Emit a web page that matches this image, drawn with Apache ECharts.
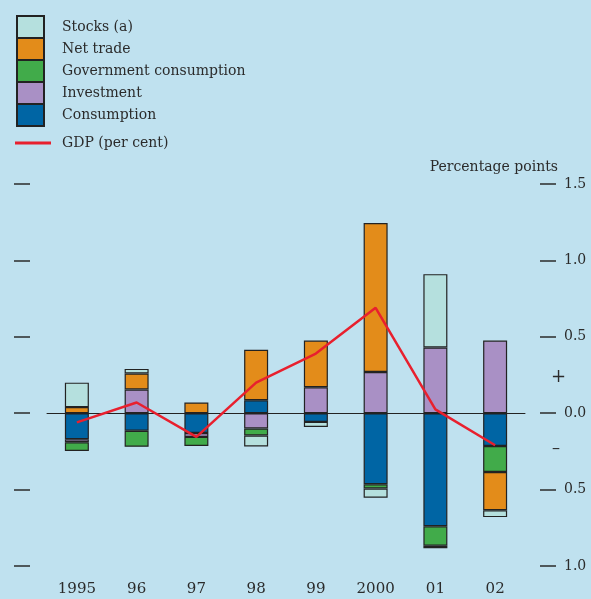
<!DOCTYPE html>
<html>
<head>
<meta charset="utf-8">
<script src="https://cdn.jsdelivr.net/npm/echarts@6/dist/echarts.min.js"></script>
<style>
  html, body { margin: 0; padding: 0; background: #bfe1ef; }
  #chart { width: 591px; height: 599px; }
</style>
</head>
<body>
<div id="chart"></div>
<script>
var years = ['1995', '96', '97', '98', '99', '2000', '01', '02'];
var consumption = [-0.17, -0.115, -0.13, 0.085, -0.057, -0.465, -0.74, -0.215];
var investment = [-0.02, 0.155, -0.025, -0.10, 0.17, 0.27, 0.43, 0.475];
var government = [-0.057, -0.105, -0.06, -0.046, null, -0.028, -0.127, -0.17];
var netTrade = [0.04, 0.105, 0.07, 0.33, 0.305, 0.975, -0.017, -0.25];
var stocks = [0.16, 0.03, null, -0.072, -0.033, -0.06, 0.48, -0.045];
var gdp = [-0.06, 0.07, -0.155, 0.2, 0.39, 0.69, 0.025, -0.21];

var font = 'DejaVu Serif';
var ink = '#2b2b2b';
var red = '#e8202e';

function barSeries(name, data, color) {
    return {
        name: name,
        type: 'bar',
        stack: 'all',
        data: data,
        barWidth: 24,
        itemStyle: { color: color, borderColor: '#222', borderWidth: 1.2 }
    };
}

var myChart = echarts.init(document.getElementById('chart'));
var option = {
    backgroundColor: '#bfe1ef',
    animation: false,
    textStyle: { fontFamily: font },
    legend: [{
        orient: 'vertical',
        left: 16,
        top: 15,
        padding: 0,
        icon: 'rect',
        itemWidth: 27,
        itemHeight: 22,
        itemGap: -2,
        selectedMode: false,
        textStyle: { fontFamily: font, fontSize: 14, lineHeight: 18, color: ink, padding: [0, 0, 0, 13] },
        data: ['Stocks (a)', 'Net trade', 'Government consumption', 'Investment', 'Consumption']
    }, {
        orient: 'vertical',
        left: 15,
        top: 134,
        padding: 0,
        itemWidth: 36,
        itemHeight: 3,
        selectedMode: false,
        textStyle: { fontFamily: font, fontSize: 14, lineHeight: 18, color: ink, padding: [0, 0, 0, 6] },
        data: [{ name: 'GDP (per cent)', icon: 'rect', itemStyle: { color: red, borderWidth: 0 } }]
    }],
    grid: { left: 47, right: 66, top: 184, bottom: 33 },
    xAxis: {
        type: 'category',
        data: years,
        axisLine: { lineStyle: { color: ink, width: 1 } },
        axisTick: { inside: true, length: 7, lineStyle: { color: ink } },
        axisLabel: { fontFamily: font, fontSize: 15, color: ink, margin: 16 }
    },
    yAxis: [{
        type: 'value',
        min: -1.0,
        max: 1.5,
        interval: 0.5,
        position: 'left',
        offset: 17,
        axisLine: { show: false },
        axisTick: { show: true, length: 16, lineStyle: { color: ink, width: 1.5 } },
        axisLabel: { show: false },
        splitLine: { show: false }
    }, {
        type: 'value',
        min: -1.0,
        max: 1.5,
        interval: 0.5,
        position: 'right',
        offset: 15,
        axisLine: { show: false },
        axisTick: { show: true, length: 16, lineStyle: { color: ink, width: 1.5 } },
        axisLabel: {
            fontFamily: font, fontSize: 14, color: ink, margin: 24,
            formatter: function (v) { return Math.abs(v).toFixed(1); }
        },
        splitLine: { show: false }
    }],
    graphic: [
        { type: 'text', right: 33, top: 160, style: { text: 'Percentage points', font: '14px "DejaVu Serif"', fill: ink } },
        { type: 'text', left: 551, top: 368, style: { text: '+', font: '18px "DejaVu Serif"', fill: ink } },
        { type: 'text', left: 552, top: 441, style: { text: '–', font: '16px "DejaVu Serif"', fill: ink } }
    ],
    series: [
        barSeries('Consumption', consumption, '#0065a4'),
        barSeries('Investment', investment, '#a990c5'),
        barSeries('Government consumption', government, '#41ab4a'),
        barSeries('Net trade', netTrade, '#e38c1a'),
        barSeries('Stocks (a)', stocks, '#b5e0de'),
        {
            name: 'GDP (per cent)',
            type: 'line',
            data: gdp,
            symbol: 'none',
            lineStyle: { color: red, width: 2.5 },
            itemStyle: { color: red },
            z: 5,
            markLine: {
                silent: true,
                symbol: 'none',
                label: { show: false },
                lineStyle: { color: '#222', width: 1, type: 'solid' },
                data: [{ yAxis: 0 }]
            }
        }
    ]
};
myChart.setOption(option);
</script>
</body>
</html>
